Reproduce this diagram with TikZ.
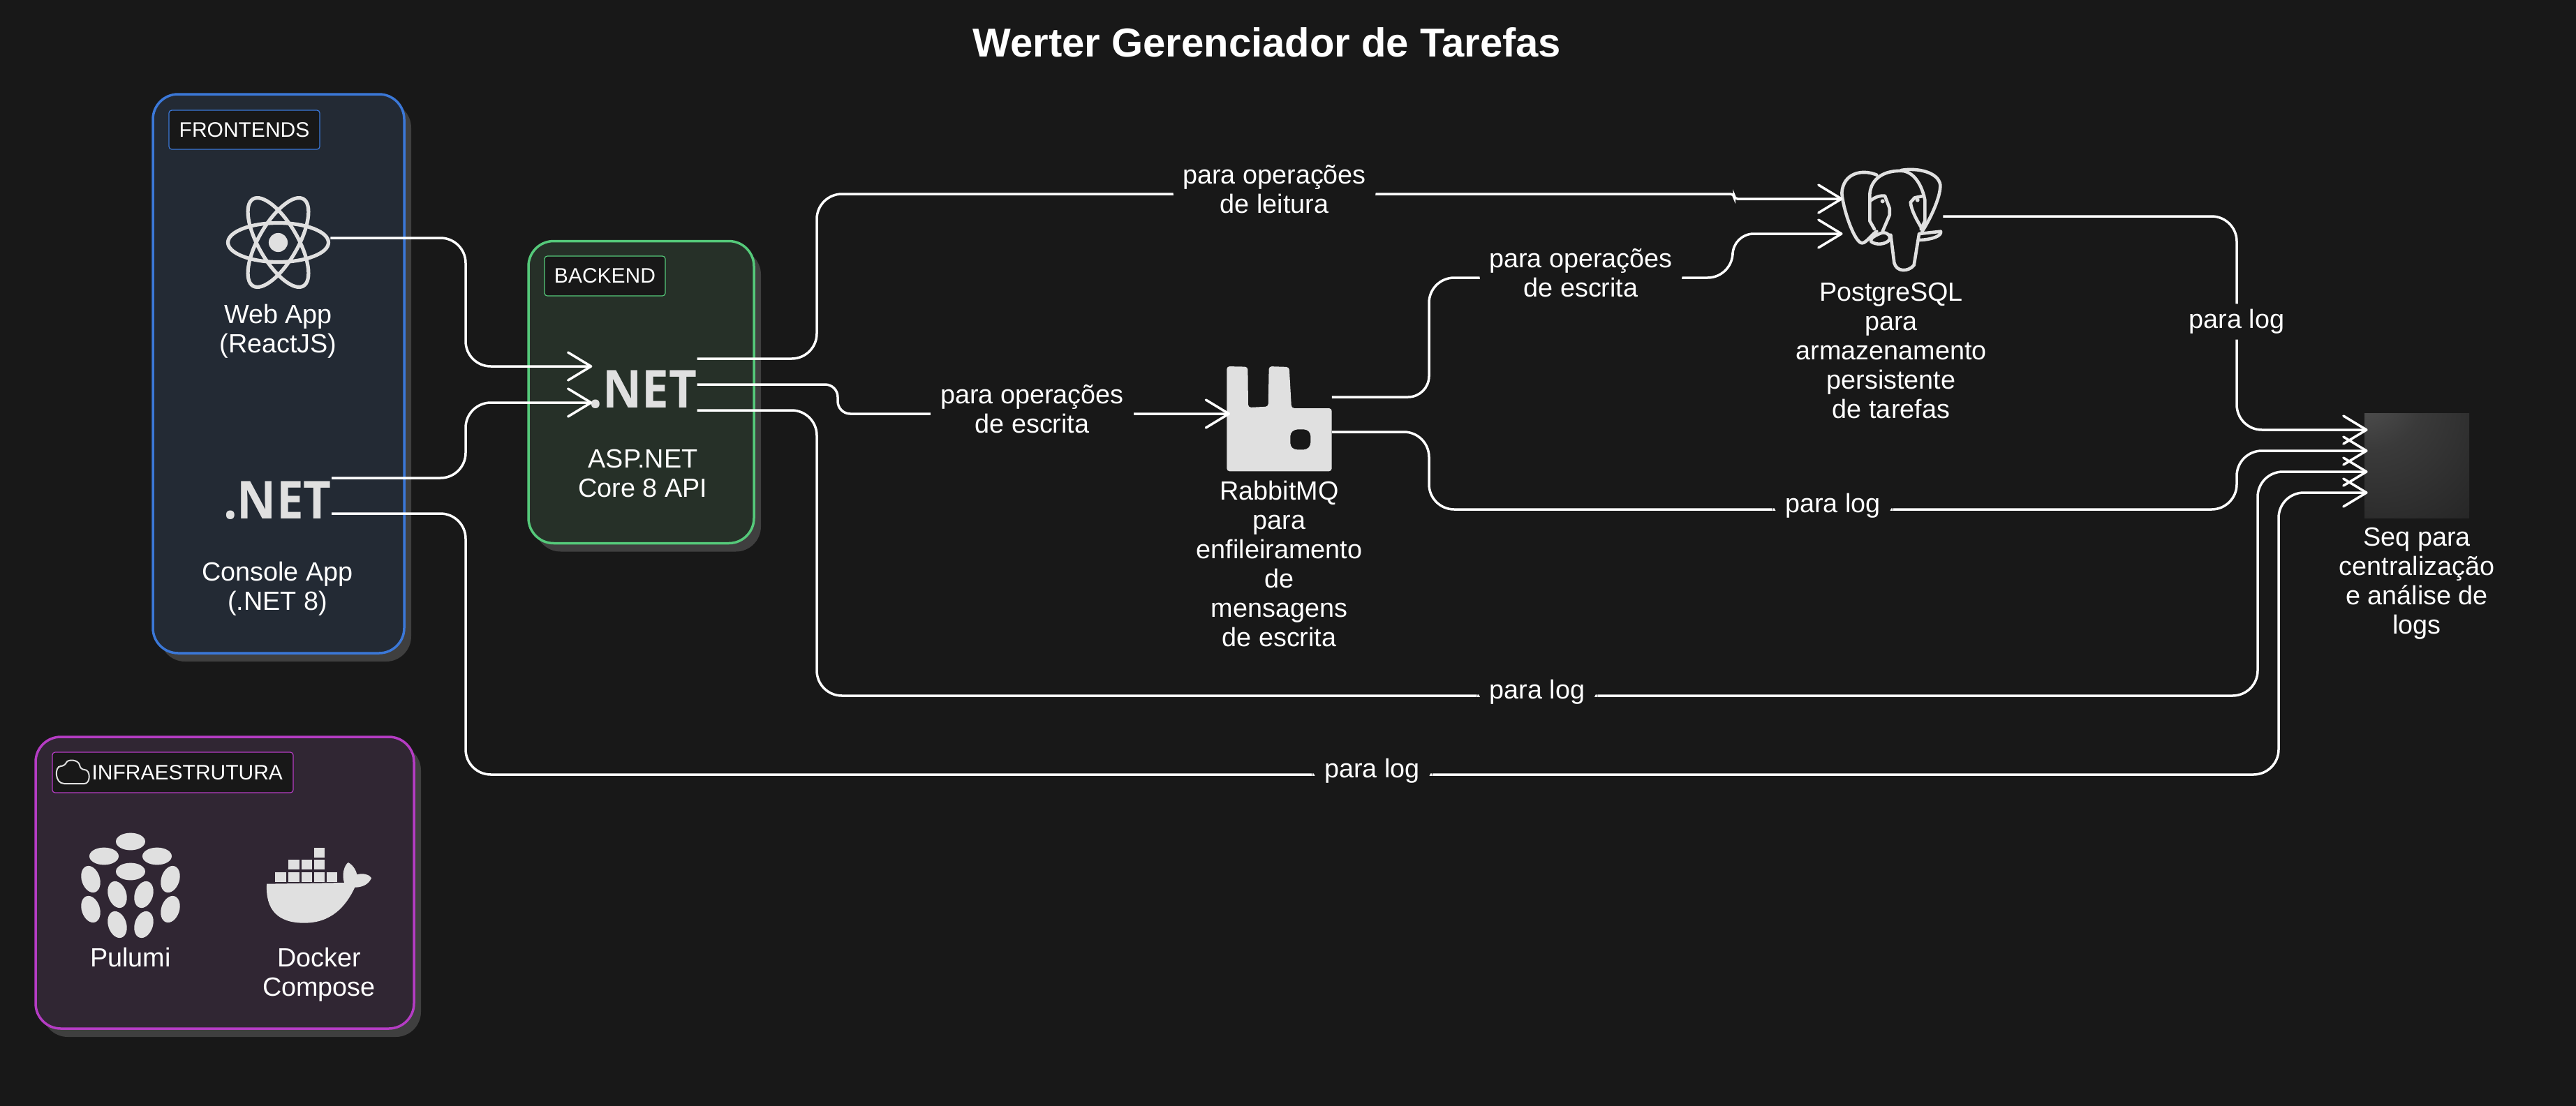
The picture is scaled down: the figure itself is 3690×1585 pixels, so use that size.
\documentclass[tikz,border=0pt]{standalone}
\usepackage{fontspec}
\usepackage{graphicx}
\setmainfont{Liberation Sans}
\newfontfamily\netfont{Open Sans}
\usetikzlibrary{positioning,arrows.meta,shadows}
\definecolor{canvas}{HTML}{181818}
\definecolor{iconfill}{HTML}{E0E0E0}
\definecolor{panelshade}{HTML}{3F3F3F}
\definecolor{frontfill}{HTML}{232A34}
\definecolor{frontline}{HTML}{3B78D8}
\definecolor{backfill}{HTML}{263028}
\definecolor{backline}{HTML}{55C97A}
\definecolor{infrafill}{HTML}{302633}
\definecolor{infraline}{HTML}{B53CC4}
\definecolor{seqhi}{HTML}{5A5A5A}
\definecolor{seqmid}{HTML}{3A3A3A}
\definecolor{seqlo}{HTML}{222222}
\pgfdeclareradialshading{seqglow}{\pgfpoint{-30bp}{43bp}}{color(0bp)=(seqhi); color(25bp)=(seqmid); color(65bp)=(seqlo); color(100bp)=(seqlo)}
\newcommand{\netmark}{\scalebox{0.92}[1]{.NET}}
\begin{document}
\begin{tikzpicture}[x=0.5pt, y=-0.5pt, >={Straight Barb[length=16.5pt,width=20pt,round]},
    main/.style = {inner sep=0, align=center, text=white, font=\fontsize{18.9}{21}\selectfont},
    panel/.style = {line width=1.75pt, rounded corners=18pt, inner sep=0, copy shadow={shadow xshift=5pt, shadow yshift=-6pt, draw=none, fill=panelshade}},
    tag/.style = {fill=canvas, line width=0.6pt, rounded corners=2pt, inner sep=0, text=white, font=\fontsize{15}{18}\selectfont},
    icon/.style = {minimum width=75pt, minimum height=75pt, inner sep=0},
    netlogo/.style = {inner sep=0, text=iconfill, text height=27.5pt, text depth=0pt, font=\netfont\bfseries\fontsize{37.5}{40}\selectfont},
    conn/.style = {draw=white, line width=1.75pt, rounded corners=18pt, shorten >=-2.5pt, ->},
    edgelabel/.style = {fill=canvas, inner xsep=7pt, inner ysep=1pt, yshift=3.5pt, align=center, text=white, font=\fontsize{18.9}{21}\selectfont},
    loglabel/.style = {edgelabel, inner xsep=9pt, inner ysep=4pt, yshift=-1pt}]
    \useasboundingbox (0,0) rectangle (3690,1585);
    \fill[canvas] (0,0) rectangle (3690,1585);

    \node[inner sep=0, text=white, font=\bfseries\fontsize{29}{34}\selectfont] (title) at (1815,61) {Werter Gerenciador de Tarefas};

    \node[panel, draw=frontline, fill=frontfill, minimum width=180pt, minimum height=400.5pt] (frontends) at (399,535.5) {};
    \node[panel, draw=backline, fill=backfill, minimum width=161.5pt, minimum height=216.5pt] (backend) at (918.5,562) {};
    \node[panel, draw=infraline, fill=infrafill, minimum width=271pt, minimum height=209pt] (infra) at (322,1265) {};

    \node[tag, draw=frontline, minimum width=108pt, minimum height=28pt] (fronttag) at (350,186) {FRONTENDS};
    \node[tag, draw=backline, minimum width=86.5pt, minimum height=28.5pt] (backtag) at (866.5,395.5) {BACKEND};
    \node[tag, draw=infraline, minimum height=29pt, text width=157.5pt, inner xsep=7.5pt, align=right] (infratag) at (247.5,1107) {INFRAESTRUTURA};

    \node[icon, minimum width=74.5pt, minimum height=66.5pt] (react) at (398.5,347.5) {};
    \node[netlogo] (console) at (397.5,716) {\netmark};
    \node[netlogo] (api) at (921,557) {\netmark};
    \node[icon] (rabbit) at (1832.5,600) {};
    \node[icon, minimum width=74pt, minimum height=74pt] (pg) at (2709,316) {};
    \node[icon, shading=seqglow] (seq) at (3462,667) {};
    \node[icon] (pulumi) at (187,1269) {};
    \node[icon] (docker) at (457,1269) {};

    \node[main] (webcap) [below=10.5pt of react]      {Web App\\(ReactJS)};
    \node[main] (consolecap) [below=30.5pt of console] {Console App\\(.NET 8)};
    \node[main] (apicap) [below=29.5pt of api]        {ASP.NET\\Core 8 API};
    \node[main] (rabbitcap) [below=6.5pt of rabbit]   {RabbitMQ\\para\\enfileiramento\\de\\mensagens\\de escrita};
    \node[main] (pgcap) [below=7pt of pg]             {PostgreSQL\\para\\armazenamento\\persistente\\de tarefas};
    \node[main] (seqcap) [below=6.5pt of seq]         {Seq para\\centralização\\e análise de\\logs};
    \node[main] (pulumicap) [below=6.5pt of pulumi]   {Pulumi};
    \node[main] (dockercap) [below=6.5pt of docker]   {Docker\\Compose};

    \begin{scope}[shift={(react.center)}, draw=iconfill, line width=2.6pt]
        \foreach \tilt in {0,60,120}
            \draw[rotate=\tilt] (0,0) ellipse [x radius=36pt, y radius=14pt];
        \fill[iconfill] (0,0) circle [radius=6.8pt];
    \end{scope}

    \begin{scope}[shift={(1650,480)}, x=0.16667pt, y=-0.16667pt]
        \fill[iconfill, even odd rule, rounded corners=2pt] (322,135) -- (412,137) -- (414,312) -- (500,308) -- (503,135) -- (590,138) -- (600,315) -- (773,315) -- (773,586) -- (322,586) -- cycle
            (615,406) -- (665,406) -- (682,422) -- (682,475) -- (665,493) -- (612,493) -- (595,478) -- (595,422) -- cycle;
    \end{scope}

    \begin{scope}[shift={(2550,220)}, x=0.16667pt, y=-0.16667pt, draw=iconfill, line width=2.3pt, line join=round, line cap=round]
        \draw (415,92) .. controls (350,65) and (270,85) .. (265,170) .. controls (270,240) and (320,385) .. (352,385) .. controls (370,385) and (395,345) .. (415,335);
        \draw (405,325) -- (385,290) -- (385,175) .. controls (390,105) and (450,70) .. (530,75) .. controls (580,85) and (610,140) .. (622,200) -- (622,290) -- (605,325);
        \draw (520,72) .. controls (590,60) and (680,80) .. (688,135) .. controls (690,190) and (640,290) .. (610,335);
        \draw (385,205) .. controls (410,185) and (430,180) .. (450,182) -- (470,235) -- (470,265) -- (440,335);
        \draw (618,182) -- (578,190) -- (560,210) .. controls (565,250) and (590,290) .. (610,325);
        \draw (440,340) .. controls (410,350) and (385,365) .. (390,378) .. controls (410,395) and (455,392) .. (470,370) .. controls (475,355) and (465,340) .. (440,340);
        \draw (475,350) -- (490,470) .. controls (500,510) and (550,510) .. (575,480) -- (597,345) -- (690,335) .. controls (695,355) and (650,370) .. (600,372);
        \fill[iconfill] (440,205) circle [radius=1.5pt];
        \fill[iconfill] (590,200) circle [radius=1.5pt];
    \end{scope}

    \foreach \cx/\cy in {187/1206, 149/1227, 225/1227, 187/1249}
        \fill[iconfill] (\cx,\cy) ellipse [x radius=10.5pt, y radius=6.2pt];
    \foreach \cx/\cy in {130/1260, 168/1282, 130/1303, 168/1325}
        \fill[iconfill, rotate around={18:(\cx,\cy)}] (\cx,\cy) ellipse [x radius=6.5pt, y radius=9.8pt];
    \foreach \cx/\cy in {244/1260, 206/1282, 244/1303, 206/1325}
        \fill[iconfill, rotate around={-18:(\cx,\cy)}] (\cx,\cy) ellipse [x radius=6.5pt, y radius=9.8pt];

    \begin{scope}[shift={(30,1040)}, x=0.19135pt, y=-0.16667pt]
        \foreach \bx/\by in {972/650, 1022/650, 1070/650, 1117/650, 1165/650, 1022/598, 1070/598, 1117/598, 1117/547}
            \fill[iconfill] (\bx-20,\by-21) rectangle (\bx+20,\by+21);
        \fill[iconfill] (920,680) -- (1210,675) .. controls (1200,640) and (1210,600) .. (1225,588) .. controls (1245,600) and (1255,625) .. (1258,640) .. controls (1280,632) and (1305,640) .. (1312,655) .. controls (1300,685) and (1275,695) .. (1250,695) .. controls (1215,780) and (1160,848) .. (1060,848) .. controls (960,848) and (915,790) .. (920,680) -- cycle;
    \end{scope}

    \draw[iconfill, line width=1pt, rounded corners=3pt] (98,1123) .. controls (78,1123) and (78,1098) .. (93,1098) .. controls (97,1088) and (113,1088) .. (115,1103) .. controls (130,1103) and (130,1123) .. (115,1123) -- cycle;

    \draw[conn] ([yshift=3.25pt]react.east) -- (667,341) -- (667,525) -- ([yshift=16pt]api.west);
    \draw[conn] ([yshift=15.5pt]console.east) -- (667,685) -- (667,577) -- ([yshift=-10pt]api.west);
    \draw[conn] ([yshift=21.5pt]api.east) -- (1170,514) -- (1170,278) -- node[edgelabel, pos=0.533] (lblread) {para operações\\de leitura} (2400,278) [rounded corners=2.5pt] -- (2484,278) -- (2484,285) -- ([yshift=15.5pt]pg.west);
    \draw[conn, rounded corners=9pt] ([yshift=3pt]api.east) -- (1200,551) -- (1200,593) -- node[edgelabel] (lblqueue) {para operações\\de escrita} ([yshift=3.5pt]rabbit.west);
    \draw[conn, rounded corners=15pt] ([yshift=15.5pt]rabbit.east) -- (2047,569) [rounded corners=18pt] -- (2047,398) -- node[edgelabel] (lblwrite) {para operações\\de escrita} (2482,398) [rounded corners=15pt] -- (2482,335) -- ([yshift=-9.5pt]pg.west);
    \draw[conn] ([yshift=3pt]pg.east) -- (3204,310) -- node[edgelabel, yshift=-2.5pt, inner ysep=4pt] (lblpg) {para log} (3204,616) -- ([yshift=25.5pt]seq.west);
    \draw[conn] ([yshift=-9.5pt]rabbit.east) -- (2047,619) -- (2047,730) -- node[loglabel] (lblrabbit) {para log} (3204,730) -- (3204,646) -- ([yshift=10.5pt]seq.west);
    \draw[conn] ([yshift=-15.5pt]api.east) -- (1170,588) -- (1170,997) -- node[loglabel] (lblapi) {para log} (3234,997) -- (3234,676) -- ([yshift=-4.5pt]seq.west);
    \draw[conn] ([yshift=-10pt]console.east) -- (667,736) -- (667,1110) -- node[loglabel] (lblconsole) {para log} (3264,1110) -- (3264,706) -- ([yshift=-19.5pt]seq.west);
\end{tikzpicture}
\end{document}
